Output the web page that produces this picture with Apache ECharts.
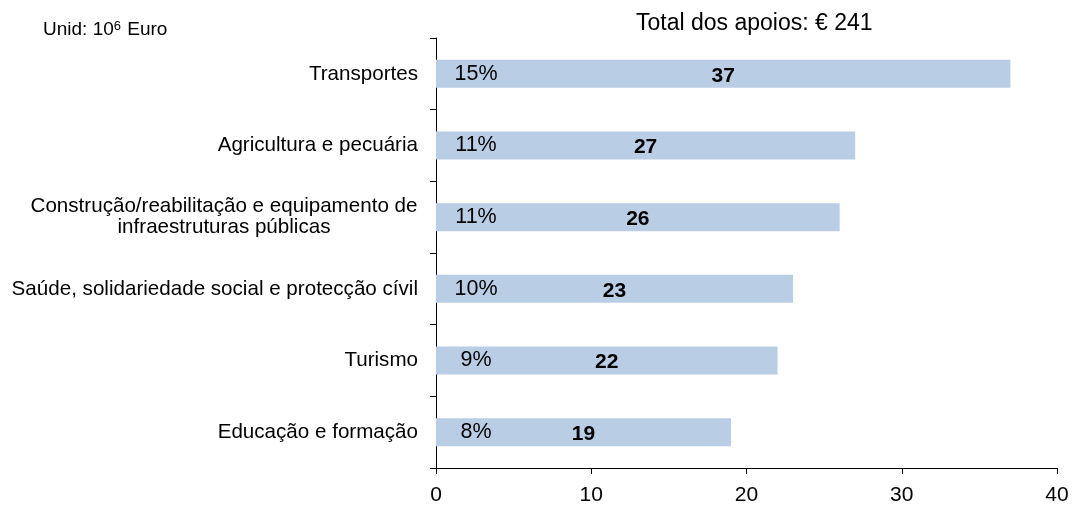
<!DOCTYPE html>
<html>
<head>
<meta charset="utf-8">
<script src="https://cdn.jsdelivr.net/npm/echarts@6/dist/echarts.min.js"></script>
<style>
  html, body { margin: 0; padding: 0; background: #fff; }
  #chart { width: 1072px; height: 506px; }
</style>
</head>
<body>
<div id="chart"></div>
<script>
// dados do grafico (unid: 10^6 Euro)
var categorias = [
  'Transportes',
  'Agricultura e pecuária',
  'Construção/reabilitação e equipamento de\ninfraestruturas públicas',
  'Saúde, solidariedade social e protecção cívil',
  'Turismo',
  'Educação e formação'
]
var valores = [37, 27, 26, 23, 22, 19]
var percentagens = ['15%', '11%', '11%', '10%', '9%', '8%']
var ticksX = [0, 10, 20, 30, 40]

var fonte = 'Liberation Sans, Arial, sans-serif'
var chart = echarts.init(document.getElementById('chart'))

chart.setOption({
  backgroundColor: '#fff',
  animation: false,
  title: [{
    text: 'Total dos apoios: € 241',
    left: 631,
    top: 7,
    textStyle: { color: '#000', fontSize: 23, fontWeight: 'normal', fontFamily: fonte }
  }, {
    text: '{a|Unid: 10}{s|6}{a| Euro}',
    left: 38,
    top: 15,
    textStyle: {
      fontWeight: 'normal',
      rich: {
        a: { color: '#000', fontSize: 19, fontWeight: 'normal', fontFamily: fonte },
        s: { color: '#000', fontSize: 13, fontWeight: 'normal', fontFamily: fonte, verticalAlign: 'top', padding: [0, 1, 6, 0] }
      }
    }
  }],
  grid: {
    left: 436,
    right: 15,
    top: 38,
    bottom: 37,
    containLabel: false
  },
  xAxis: {
    type: 'value',
    min: ticksX[0],
    max: ticksX[ticksX.length - 1],
    interval: 10,
    splitLine: { show: false },
    axisLine: { show: true, lineStyle: { color: '#000', width: 1 } },
    axisTick: { show: true, length: 6, lineStyle: { color: '#000' } },
    axisLabel: {
      color: '#000',
      fontSize: 21,
      fontFamily: fonte,
      margin: 17
    }
  },
  yAxis: {
    type: 'category',
    inverse: true,
    data: categorias,
    axisLine: { show: true, lineStyle: { color: '#000', width: 1 } },
    axisTick: { show: true, length: 6, lineStyle: { color: '#000' } },
    axisLabel: {
      color: '#000',
      fontSize: 20.6,
      fontFamily: fonte,
      margin: 18,
      lineHeight: 21,
      formatter: function(v) {
        if (v.indexOf('\n') > -1) {
          return v.split('\n').map(function(l) { return '{c|' + l + '}' }).join('\n')
        }
        return v
      },
      rich: {
        c: { color: '#000', fontSize: 20.6, fontFamily: fonte, width: 388, align: 'center', lineHeight: 21 }
      }
    }
  },
  series: [{
    type: 'bar',
    data: valores,
    barWidth: 28,
    itemStyle: { color: '#B9CDE5' },
    label: {
      show: true,
      position: 'inside',
      color: '#000',
      fontSize: 21,
      fontWeight: 'bold',
      fontFamily: fonte,
      offset: [0, 2]
    }
  }, {
    type: 'bar',
    data: valores,
    barWidth: 28,
    barGap: '-100%',
    silent: true,
    itemStyle: { color: 'rgba(0,0,0,0)' },
    label: {
      show: true,
      position: [40, 14],
      align: 'center',
      verticalAlign: 'middle',
      color: '#000',
      fontSize: 21.5,
      fontFamily: fonte,
      formatter: function(p) {
        return percentagens[p.dataIndex]
      }
    }
  }]
})
</script>
</body>
</html>
